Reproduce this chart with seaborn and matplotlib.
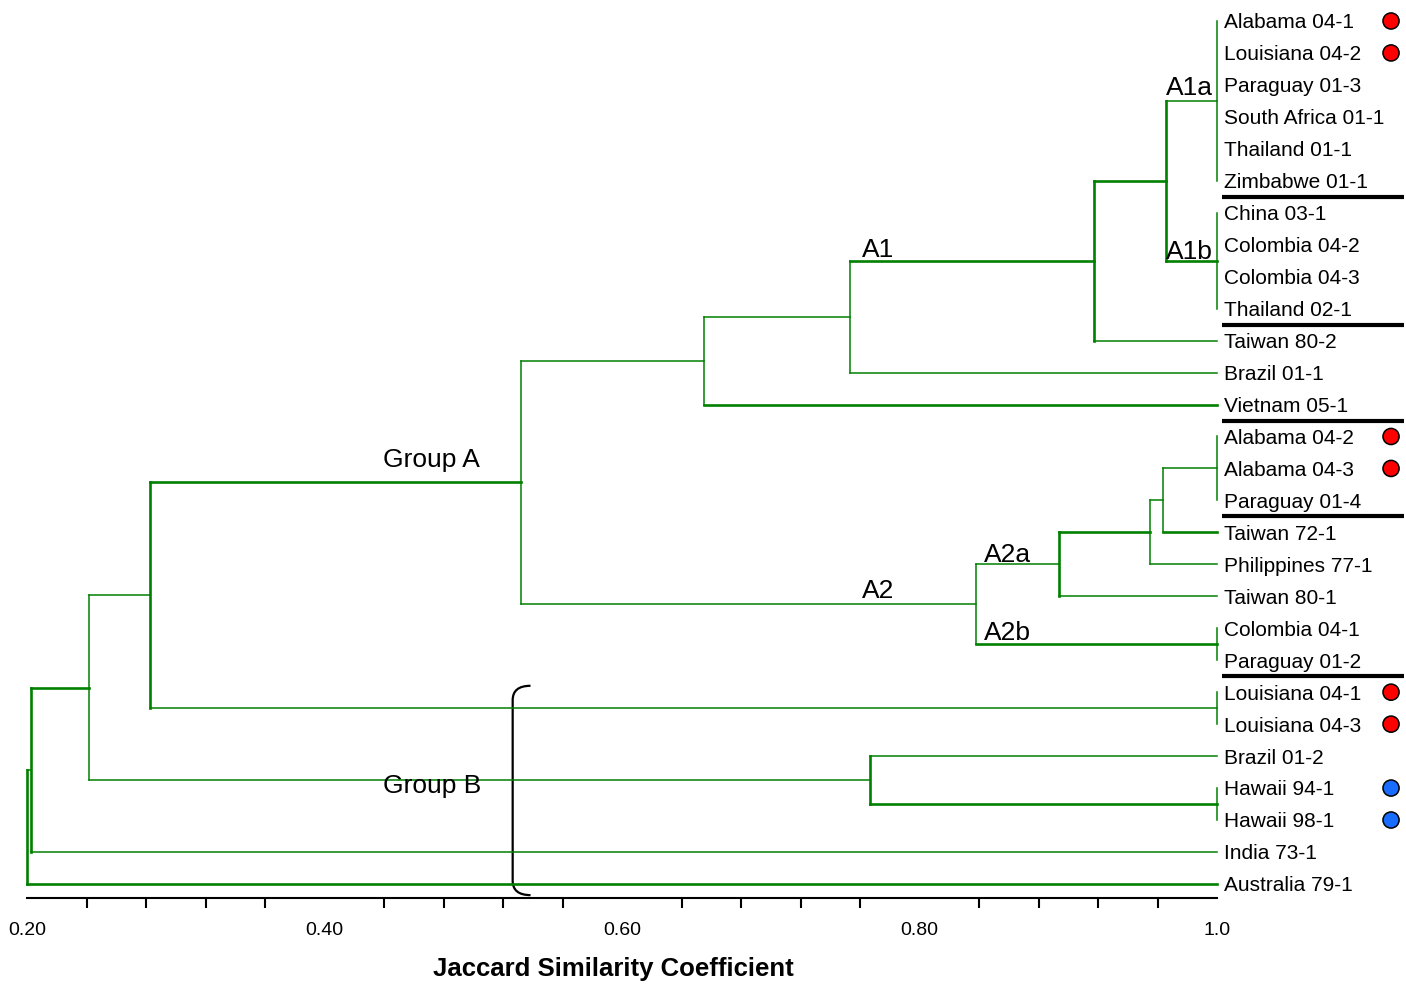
import matplotlib
matplotlib.use("Agg")
import matplotlib.pyplot as plt
from matplotlib.path import Path
from matplotlib.patches import PathPatch
import seaborn as sns
import pandas as pd

# leaf order, top to bottom
leaves = [
    "Alabama 04-1", "Louisiana 04-2", "Paraguay 01-3", "South Africa 01-1",
    "Thailand 01-1", "Zimbabwe 01-1", "China 03-1", "Colombia 04-2",
    "Colombia 04-3", "Thailand 02-1", "Taiwan 80-2", "Brazil 01-1",
    "Vietnam 05-1", "Alabama 04-2", "Alabama 04-3", "Paraguay 01-4",
    "Taiwan 72-1", "Philippines 77-1", "Taiwan 80-1", "Colombia 04-1",
    "Paraguay 01-2", "Louisiana 04-1", "Louisiana 04-3", "Brazil 01-2",
    "Hawaii 94-1", "Hawaii 98-1", "India 73-1", "Australia 79-1",
]

red_isolates = ["Alabama 04-1", "Louisiana 04-2", "Alabama 04-2",
                "Alabama 04-3", "Louisiana 04-1", "Louisiana 04-3"]
blue_isolates = ["Hawaii 94-1", "Hawaii 98-1"]

# black bars drawn below these leaves
group_breaks = ["Zimbabwe 01-1", "Thailand 02-1", "Vietnam 05-1",
                "Paraguay 01-4", "Paraguay 01-2"]

# merges: (node, similarity, children)
clusters = [
    ("A1a", 1.000, leaves[0:6]),
    ("A1b", 1.000, leaves[6:10]),
    ("n1", 0.966, ["A1a", "A1b"]),
    ("n2", 0.917, ["n1", "Taiwan 80-2"]),
    ("A1", 0.753, ["n2", "Brazil 01-1"]),
    ("n3", 0.655, ["A1", "Vietnam 05-1"]),
    ("n4", 1.000, ["Alabama 04-2", "Alabama 04-3", "Paraguay 01-4"]),
    ("n5", 0.964, ["n4", "Taiwan 72-1"]),
    ("n6", 0.955, ["n5", "Philippines 77-1"]),
    ("A2a", 0.894, ["n6", "Taiwan 80-1"]),
    ("A2b", 1.000, ["Colombia 04-1", "Paraguay 01-2"]),
    ("A2", 0.838, ["A2a", "A2b"]),
    ("n7", 0.532, ["n3", "A2"]),
    ("n8", 1.000, ["Louisiana 04-1", "Louisiana 04-3"]),
    ("GroupA", 0.283, ["n7", "n8"]),
    ("n9", 1.000, ["Hawaii 94-1", "Hawaii 98-1"]),
    ("n10", 0.767, ["Brazil 01-2", "n9"]),
    ("n11", 0.242, ["GroupA", "n10"]),
    ("n12", 0.203, ["n11", "India 73-1"]),
    ("root", 0.200, ["n12", "Australia 79-1"]),
]

# heavier strokes, as in the original figure
thick_verticals = {"GroupA", "n12", "n2", "n1", "A2a", "n10", "root"}
thick_branches = {"n7", "n11", "Australia 79-1", "n9", "Vietnam 05-1", "n2",
                  "n1", "A1b", "A2b", "n6", "Taiwan 72-1"}

GREEN = "#008000"
THIN, THICK = 1.1, 1.9

sns.set_style("white")
plt.rcParams["font.family"] = ["Liberation Sans", "DejaVu Sans"]
plt.rcParams["text.color"] = "black"
plt.rcParams["axes.labelcolor"] = "black"
plt.rcParams["xtick.color"] = "black"

fig = plt.figure(figsize=(14.06, 9.89), dpi=100)
ax = fig.add_axes([27 / 1406, 91 / 989, 1190 / 1406, 898 / 989])

ypos = {n: i for i, n in enumerate(leaves)}
xpos = {n: 1.0 for n in leaves}
for name, sim, kids in clusters:
    ys = [ypos[k] for k in kids]
    lo, hi = min(ys), max(ys)
    ypos[name] = (lo + hi) / 2
    xpos[name] = sim
    ax.plot([sim, sim], [lo, hi], color=GREEN,
            lw=THICK if name in thick_verticals else THIN,
            solid_capstyle="projecting", clip_on=False)
    for k in kids:
        if xpos[k] > sim:
            ax.plot([sim, xpos[k]], [ypos[k], ypos[k]], color=GREEN,
                    lw=THICK if k in thick_branches else THIN,
                    solid_capstyle="projecting", clip_on=False)

# leaf labels
for n in leaves:
    ax.text(1.0047, ypos[n] + 0.06, n, fontsize=15, va="center", ha="left",
            clip_on=False)

# group separators
for n in group_breaks:
    ax.plot([1.0035, 1.1257], [ypos[n] + 0.5] * 2, color="black", lw=3,
            solid_capstyle="butt", clip_on=False)

# coloured dots
dots = pd.DataFrame({
    "leaf": red_isolates + blue_isolates,
    "kind": ["red"] * len(red_isolates) + ["blue"] * len(blue_isolates),
})
dots["y"] = dots["leaf"].map(ypos)
dots["x"] = 1.117
sns.scatterplot(data=dots, x="x", y="y", hue="kind",
                palette={"red": "#ff0000", "blue": "#1a6cff"},
                s=135, edgecolor="black", linewidth=1.1, legend=False,
                ax=ax, clip_on=False, zorder=5)

# node labels
node_labels = [
    ("A1a", 0.966, 2.30), ("A1b", 0.966, 7.45), ("A1", 0.761, 7.38),
    ("A2", 0.761, 18.05), ("A2a", 0.843, 16.93), ("A2b", 0.843, 19.37),
    ("Group A", 0.439, 13.95), ("Group B", 0.439, 24.15),
]
for txt, x, y in node_labels:
    ax.text(x, y, txt, fontsize=19, ha="left", va="baseline", clip_on=False)

# bracket round group B
xv, xe, yt, yb = 0.5265, 0.5385, 20.8, 27.35
verts = [(xe, yt), (xv, yt), (xv, yt + 0.45), (xv, yb - 0.45), (xv, yb), (xe, yb)]
codes = [Path.MOVETO, Path.CURVE3, Path.CURVE3, Path.LINETO, Path.CURVE3, Path.CURVE3]
ax.add_patch(PathPatch(Path(verts, codes), fill=False, edgecolor="black",
                       lw=1.6, clip_on=False))

ax.set_xlim(0.2, 1.0)
ax.set_ylim(27.44, -0.657)
ax.set_xticks([0.2, 0.4, 0.6, 0.8, 1.0])
ax.set_xticklabels(["0.20", "0.40", "0.60", "0.80", "1.0"], fontsize=14)
ax.set_xticks([0.24, 0.28, 0.32, 0.36, 0.44, 0.48, 0.52, 0.56, 0.64, 0.68,
               0.72, 0.76, 0.84, 0.88, 0.92, 0.96], minor=True)
ax.tick_params(axis="x", which="major", direction="out", length=13, width=1.5,
               pad=4, colors="black")
ax.tick_params(axis="x", which="minor", direction="out", length=7, width=1.5,
               colors="black", bottom=True)
ax.set_yticks([])
for s in ["left", "top", "right"]:
    ax.spines[s].set_visible(False)
ax.spines["bottom"].set_color("black")
ax.spines["bottom"].set_linewidth(1.5)
ax.set_xlabel("Jaccard Similarity Coefficient", fontsize=18.5, weight="bold")
ax.xaxis.set_label_coords((613 - 27) / 1190, -0.066)
ax.set_ylabel("")

fig.savefig("out.png", dpi=100)
